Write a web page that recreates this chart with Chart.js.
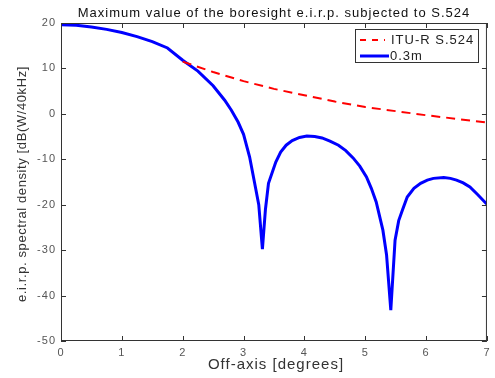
<!DOCTYPE html>
<html>
<head>
<meta charset="utf-8">
<script src="https://cdn.jsdelivr.net/npm/chart.js@4/dist/chart.umd.min.js"></script>
<style>
  html, body { margin: 0; padding: 0; background: #fff; }
  #wrap { width: 495px; height: 378px; }
</style>
</head>
<body>
<div id="wrap"><canvas id="chart" width="495" height="378"></canvas></div>
<script>
// off-axis angle (deg) and e.i.r.p. density for the 0.3m antenna
const offAxis = [0.00, 0.25, 0.50, 0.75, 1.00, 1.25, 1.50, 1.75, 2.00, 2.25, 2.50, 2.69, 2.80, 2.91, 3.00, 3.10, 3.20, 3.25, 3.31, 3.36, 3.41, 3.53, 3.61, 3.70, 3.80, 3.92, 4.04, 4.17, 4.29, 4.42, 4.56, 4.68, 4.80, 4.91, 5.02, 5.10, 5.18, 5.29, 5.35, 5.42, 5.49, 5.55, 5.61, 5.69, 5.80, 5.91, 6.02, 6.12, 6.29, 6.40, 6.50, 6.61, 6.72, 6.85, 7.00];
const eirp03m = [19.6, 19.5, 19.1, 18.6, 17.9, 17.0, 15.9, 14.5, 11.8, 9.4, 6.2, 3.0, 0.8, -1.8, -4.5, -9.5, -16.5, -20.0, -29.8, -21.0, -15.3, -10.6, -8.4, -6.9, -5.9, -5.2, -4.9, -5.0, -5.3, -6.0, -6.9, -8.1, -9.7, -11.5, -13.9, -16.4, -19.4, -25.6, -31.0, -43.2, -27.8, -23.5, -21.2, -18.3, -16.4, -15.3, -14.6, -14.2, -14.0, -14.2, -14.6, -15.2, -16.1, -17.8, -19.9];

// ITU-R S.524 mask
const s524Angles = [2.0, 2.5, 3.0, 3.5, 4.0, 4.5, 5.0, 5.5, 6.0, 6.5, 7.0];
const s524Values = [11.5, 9.2, 7.2, 5.5, 4.1, 2.7, 1.5, 0.6, -0.3, -1.1, -1.9];

const xTicks = [0, 1, 2, 3, 4, 5, 6, 7];
const yTicks = [-50, -40, -30, -20, -10, 0, 10, 20];

const FONT = '"Liberation Sans", Arial, sans-serif';

const pts = (xs, ys) => xs.map((x, i) => ({ x: x, y: ys[i] }));

// frame with inward ticks, titles and boxed legend (matlab look)
const matlabFrame = {
  id: 'matlabFrame',
  beforeDraw(chart) {
    chart.ctx.letterSpacing = '1px';
  },
  afterDraw(chart) {
    const { ctx, chartArea: a, scales } = chart;
    const xs = scales.x, ys = scales.y;
    ctx.save();
    ctx.strokeStyle = '#333';
    ctx.lineWidth = 1;
    ctx.strokeRect(a.left + 0.5, a.top + 0.5, a.right - a.left - 1, a.bottom - a.top - 1);
    ctx.beginPath();
    xTicks.forEach(v => {
      const px = Math.round(xs.getPixelForValue(v)) + 0.5;
      ctx.moveTo(px, a.bottom); ctx.lineTo(px, a.bottom - 5);
      ctx.moveTo(px, a.top); ctx.lineTo(px, a.top + 5);
    });
    yTicks.forEach(v => {
      const py = Math.round(ys.getPixelForValue(v)) + 0.5;
      ctx.moveTo(a.left, py); ctx.lineTo(a.left + 5, py);
      ctx.moveTo(a.right, py); ctx.lineTo(a.right - 5, py);
    });
    ctx.stroke();

    ctx.textAlign = 'center';
    ctx.textBaseline = 'middle';

    // title
    ctx.fillStyle = '#111';
    ctx.font = '13px ' + FONT;
    ctx.letterSpacing = '1px';
    ctx.fillText('Maximum value of the boresight e.i.r.p. subjected to S.524', (a.left + a.right) / 2, 13);

    // axis titles
    ctx.fillStyle = '#333';
    ctx.font = '15px ' + FONT;
    ctx.letterSpacing = '1px';
    ctx.fillText('Off-axis [degrees]', 276, 365);
    ctx.save();
    ctx.translate(22, 184);
    ctx.rotate(-Math.PI / 2);
    ctx.font = '13px ' + FONT;
    ctx.letterSpacing = '0.6px';
    ctx.fillText('e.i.r.p. spectral density [dB(W/40kHz]', 0, 0);
    ctx.restore();

    // legend
    const lx = 355, ly = 29, lw = 123, lh = 33;
    ctx.fillStyle = '#fff';
    ctx.fillRect(lx, ly, lw, lh);
    ctx.strokeStyle = '#333';
    ctx.lineWidth = 1;
    ctx.strokeRect(lx + 0.5, ly + 0.5, lw, lh);
    ctx.lineWidth = 2;
    ctx.strokeStyle = '#ff0000';
    ctx.setLineDash([6, 6]);
    ctx.beginPath(); ctx.moveTo(360, 40); ctx.lineTo(385, 40); ctx.stroke();
    ctx.setLineDash([]);
    ctx.lineWidth = 3;
    ctx.strokeStyle = '#0000ff';
    ctx.beginPath(); ctx.moveTo(360, 56); ctx.lineTo(389, 56); ctx.stroke();
    ctx.fillStyle = '#222';
    ctx.textAlign = 'left';
    ctx.font = '13px ' + FONT;
    ctx.letterSpacing = '1px';
    ctx.fillText('ITU-R S.524', 391, 40);
    ctx.fillText('0.3m', 390, 56);
    ctx.restore();
  }
};

new Chart(document.getElementById('chart'), {
  type: 'line',
  data: {
    datasets: [
      {
        label: 'ITU-R S.524',
        data: pts(s524Angles, s524Values),
        borderColor: '#ff0000',
        borderWidth: 2,
        borderDash: [9, 6],
        pointRadius: 0,
        tension: 0
      },
      {
        label: '0.3m',
        data: pts(offAxis, eirp03m),
        borderColor: '#0000ff',
        borderWidth: 3,
        pointRadius: 0,
        tension: 0
      }
    ]
  },
  options: {
    responsive: false,
    animation: false,
    events: [],
    layout: { padding: { top: 23, right: 3, left: 0, bottom: 0 } },
    plugins: {
      legend: { display: false },
      tooltip: { enabled: false },
      title: { display: false }
    },
    scales: {
      x: {
        type: 'linear',
        min: 0, max: 7,
        afterBuildTicks: s => { s.ticks = xTicks.map(v => ({ value: v })); },
        afterFit: s => { s.height = 37; },
        grid: { display: false, drawTicks: false },
        border: { display: false },
        ticks: { color: '#555', font: { family: FONT, size: 11 }, padding: 5, maxRotation: 0 }
      },
      y: {
        min: -50, max: 20,
        afterBuildTicks: s => { s.ticks = yTicks.map(v => ({ value: v })); },
        afterFit: s => { s.width = 61; },
        grid: { display: false, drawTicks: false },
        border: { display: false },
        ticks: { color: '#555', font: { family: FONT, size: 11 }, padding: 5 }
      }
    }
  },
  plugins: [matlabFrame]
});
</script>
</body>
</html>
